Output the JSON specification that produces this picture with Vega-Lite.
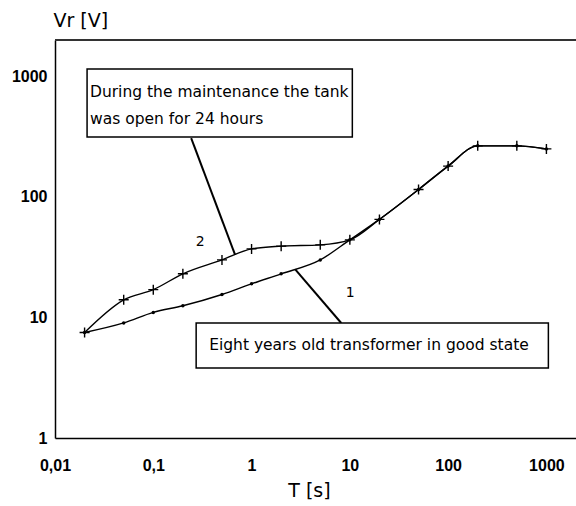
{
  "$schema": "https://vega.github.io/schema/vega-lite/v6.json",
  "width": 521,
  "height": 398,
  "autosize": {"type": "none"},
  "padding": {"left": 55, "top": 40, "right": 0, "bottom": 68},
  "background": "white",
  "config": {
    "view": {"stroke": null},
    "axis": {
      "grid": false,
      "ticks": false,
      "domainColor": "black",
      "domainWidth": 1.5,
      "labelFont": "Liberation Sans",
      "labelFontWeight": "bold",
      "labelFontSize": 16,
      "labelColor": "black",
      "labelFlush": false,
      "labelOverlap": false,
      "titleFont": "DejaVu Sans",
      "titleFontSize": 19,
      "titleFontWeight": "normal",
      "titleColor": "black"
    }
  },
  "datasets": {
    "series": [
      {"curve": "1", "t": 0.02, "v": 7.5},
      {"curve": "1", "t": 0.05, "v": 9},
      {"curve": "1", "t": 0.1, "v": 11},
      {"curve": "1", "t": 0.2, "v": 12.5},
      {"curve": "1", "t": 0.5, "v": 15.5},
      {"curve": "1", "t": 1, "v": 19},
      {"curve": "1", "t": 2, "v": 23},
      {"curve": "1", "t": 5, "v": 30},
      {"curve": "1", "t": 10, "v": 44},
      {"curve": "1", "t": 20, "v": 65},
      {"curve": "1", "t": 50, "v": 115},
      {"curve": "1", "t": 100, "v": 180},
      {"curve": "1", "t": 200, "v": 265},
      {"curve": "1", "t": 500, "v": 265},
      {"curve": "1", "t": 1000, "v": 250},
      {"curve": "2", "t": 0.02, "v": 7.5},
      {"curve": "2", "t": 0.05, "v": 14},
      {"curve": "2", "t": 0.1, "v": 17},
      {"curve": "2", "t": 0.2, "v": 23},
      {"curve": "2", "t": 0.5, "v": 30},
      {"curve": "2", "t": 1, "v": 37},
      {"curve": "2", "t": 2, "v": 39},
      {"curve": "2", "t": 5, "v": 40},
      {"curve": "2", "t": 10, "v": 44},
      {"curve": "2", "t": 20, "v": 65},
      {"curve": "2", "t": 50, "v": 115},
      {"curve": "2", "t": 100, "v": 180},
      {"curve": "2", "t": 200, "v": 265},
      {"curve": "2", "t": 500, "v": 265},
      {"curve": "2", "t": 1000, "v": 250}
    ],
    "xTicks": [
      {"t": 0.02}, {"t": 0.03}, {"t": 0.04}, {"t": 0.05}, {"t": 0.06}, {"t": 0.07}, {"t": 0.08}, {"t": 0.09},
      {"t": 0.1}, {"t": 0.2}, {"t": 0.3}, {"t": 0.4}, {"t": 0.5}, {"t": 0.6}, {"t": 0.7}, {"t": 0.8}, {"t": 0.9},
      {"t": 1}, {"t": 2}, {"t": 3}, {"t": 4}, {"t": 5}, {"t": 6}, {"t": 7}, {"t": 8}, {"t": 9},
      {"t": 10}, {"t": 20}, {"t": 30}, {"t": 40}, {"t": 50}, {"t": 60}, {"t": 70}, {"t": 80}, {"t": 90},
      {"t": 100}, {"t": 200}, {"t": 300}, {"t": 400}, {"t": 500}, {"t": 600}, {"t": 700}, {"t": 800}, {"t": 900},
      {"t": 1000}
    ],
    "yTicks": [
      {"v": 2}, {"v": 3}, {"v": 4}, {"v": 5}, {"v": 6}, {"v": 7}, {"v": 8}, {"v": 9},
      {"v": 10}, {"v": 20}, {"v": 30}, {"v": 40}, {"v": 50}, {"v": 60}, {"v": 70}, {"v": 80}, {"v": 90},
      {"v": 100}, {"v": 200}, {"v": 300}, {"v": 400}, {"v": 500}, {"v": 600}, {"v": 700}, {"v": 800}, {"v": 900},
      {"v": 1000}
    ],
    "frame": [
      {"t": 0.01, "t2": 2000, "v": 2000}
    ],
    "leaders": [
      {"t": 0.243, "v": 307, "t2": 0.68, "v2": 33},
      {"t": 2.78, "v": 25, "t2": 8.17, "v2": 8.99}
    ],
    "boxes": [
      {"t": 0.0212, "t2": 10.6, "v": 1148, "v2": 313},
      {"t": 0.273, "t2": 1047, "v": 8.99, "v2": 3.81}
    ],
    "notes": [
      {"t": 0.0227, "v": 739, "label": "During the maintenance the tank"},
      {"t": 0.0227, "v": 442, "label": "was open for 24 hours"},
      {"t": 0.37, "v": 5.9, "label": "Eight years old transformer in good state"}
    ],
    "curveLabels": [
      {"t": 0.3, "v": 42, "label": "2"},
      {"t": 10.1, "v": 15.9, "label": "1"}
    ]
  },
  "encoding": {
    "x": {
      "field": "t",
      "type": "quantitative",
      "scale": {"type": "log", "domain": [0.01, 2000], "nice": false},
      "axis": {
        "title": "T [s]",
        "values": [0.01, 0.1, 1, 10, 100, 1000],
        "labelExpr": "replace(toString(datum.value), '.', ',')",
        "labelPadding": 19,
        "titleX": 254,
        "titleY": 52,
        "titleBaseline": "middle"
      }
    },
    "y": {
      "field": "v",
      "type": "quantitative",
      "scale": {"type": "log", "domain": [1, 2000], "nice": false},
      "axis": {
        "title": "Vr [V]",
        "values": [1, 10, 100, 1000],
        "labelExpr": "toString(datum.value)",
        "labelPadding": 8,
        "titleAngle": 0,
        "titleAlign": "left",
        "titleBaseline": "middle",
        "titleX": -2,
        "titleY": -20
      }
    }
  },
  "layer": [
    {
      "data": {"name": "frame"},
      "mark": {"type": "rule", "color": "#333333", "strokeWidth": 2},
      "encoding": {"x2": {"field": "t2"}}
    },
    {
      "data": {"name": "xTicks"},
      "mark": {"type": "tick", "orient": "vertical", "size": 8, "thickness": 1.2, "yOffset": -4, "color": "black", "opacity": 1},
      "encoding": {"y": {"datum": 1}}
    },
    {
      "data": {"name": "yTicks"},
      "mark": {"type": "tick", "orient": "horizontal", "size": 8, "thickness": 1.2, "xOffset": 4, "color": "black", "opacity": 1},
      "encoding": {"x": {"datum": 0.01}}
    },
    {
      "data": {"name": "series"},
      "mark": {"type": "line", "interpolate": "monotone", "color": "black", "strokeWidth": 1.4},
      "encoding": {"detail": {"field": "curve", "type": "nominal"}}
    },
    {
      "data": {"name": "series"},
      "transform": [{"filter": "datum.curve === '2'"}],
      "mark": {"type": "point", "shape": "M-1,0H1M0,-1V1", "filled": false, "stroke": "black", "strokeWidth": 1.4, "size": 100, "opacity": 1}
    },
    {
      "data": {"name": "series"},
      "transform": [{"filter": "datum.curve === '1'"}],
      "mark": {"type": "circle", "color": "black", "size": 12, "opacity": 1}
    },
    {
      "data": {"name": "leaders"},
      "mark": {"type": "rule", "color": "black", "strokeWidth": 2},
      "encoding": {"x2": {"field": "t2"}, "y2": {"field": "v2"}}
    },
    {
      "data": {"name": "boxes"},
      "mark": {"type": "rect", "fill": "white", "stroke": "black", "strokeWidth": 1.5},
      "encoding": {"x2": {"field": "t2"}, "y2": {"field": "v2"}}
    },
    {
      "data": {"name": "notes"},
      "mark": {"type": "text", "align": "left", "baseline": "middle", "font": "DejaVu Sans", "fontSize": 15.5, "color": "black"},
      "encoding": {"text": {"field": "label"}}
    },
    {
      "data": {"name": "curveLabels"},
      "mark": {"type": "text", "align": "center", "baseline": "middle", "font": "DejaVu Sans", "fontSize": 14, "color": "black"},
      "encoding": {"text": {"field": "label"}}
    }
  ]
}
